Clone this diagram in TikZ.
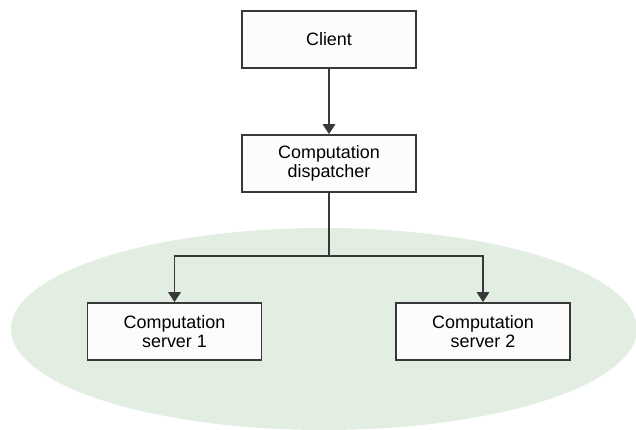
\documentclass[tikz,border=0pt]{standalone}
\usepackage{fontspec}
\setmainfont{Liberation Sans}
\usepackage{tikz}
\usetikzlibrary{arrows.meta}

\definecolor{cloud}{HTML}{E2EEE2}
\definecolor{boxfill}{HTML}{FDFCFA}
\definecolor{edge}{HTML}{383838}

\tikzset{
    unit/.style={draw=edge, fill=boxfill, line width=1pt, minimum width=3.48cm,
        minimum height=1.14cm, align=center, inner sep=0pt,
        font=\fontsize{10.2}{11}\selectfont},
    link/.style={draw=edge, line width=1pt, -{Triangle[width=0.25cm, length=0.2cm]}}
}

\begin{document}
\begin{tikzpicture}
        \useasboundingbox (0,0) rectangle (12.72,8.6);

        \coordinate (C) at (6.48,2.02);
        \coordinate (split) at (6.58,3.48);

        \fill[cloud] (C) ellipse (6.26 and 2.02);

        \node[unit] (client) at (6.58,7.81) {Client};
        \node[unit] (disp) at (6.58,5.33) {Computation\\dispatcher};
        \node[unit] (srv1) at (3.49,1.97) {Computation\\server 1};
        \node[unit] (srv2) at (9.66,1.97) {Computation\\server 2};

        \draw[link] (client) -- (disp);

        \draw[draw=edge, line width=1pt] (disp) -- (split);
        \draw[link] (split) -| (srv1);
        \draw[link] (split) -| (srv2);
    \end{tikzpicture}
\end{document}
